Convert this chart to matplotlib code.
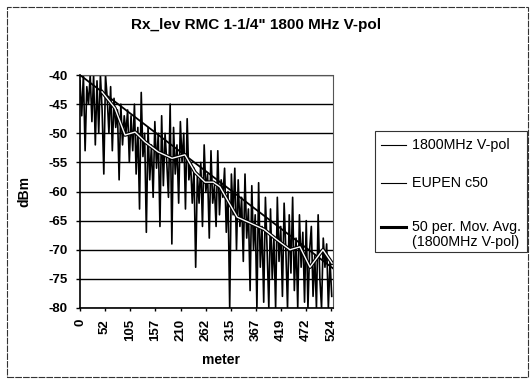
import numpy as np
import matplotlib
matplotlib.use("Agg")
import matplotlib.pyplot as plt
from matplotlib.lines import Line2D
from matplotlib.patches import Rectangle
import matplotlib.patheffects as pe

plt.rcParams['font.family'] = ['Liberation Sans', 'DejaVu Sans']

title = 'Rx_lev RMC 1-1/4" 1800 MHz V-pol'
x_ticks = [0, 52, 105, 157, 210, 262, 315, 367, 419, 472, 524]
x_tick_labels = [str(v) for v in x_ticks]
y_ticks = [-40, -45, -50, -55, -60, -65, -70, -75, -80]

# measured signal, one sample every meter_step meters
meter_step = 3.55
rx_dbm = [
    -41, -47, -40, -53, -42, -45, -40, -48, -40, -52,
    -41, -50, -40, -46, -57, -40, -44, -50, -42, -53,
    -44, -49, -46, -58, -45, -52, -47, -50, -46, -55,
    -47, -53, -45, -57, -49, -63, -43, -54, -50, -67,
    -49, -58, -52, -61, -48, -56, -50, -66, -47, -59,
    -50, -55, -61, -45, -69, -49, -57, -52, -62, -48,
    -55, -50, -63, -47.5, -58, -55, -62, -56, -73, -57,
    -62, -55, -66, -52, -60, -57, -68, -53, -62, -59,
    -66, -53, -64, -58, -61, -56, -67, -60, -80, -57,
    -64, -56, -70, -58, -66, -61, -72, -57, -68, -63,
    -77, -59, -70, -64, -80, -58.5, -73, -66, -79, -61,
    -70, -80, -63, -75, -68, -80, -61, -72, -66, -78,
    -62, -70, -80, -64, -74, -61, -77, -68, -80, -64,
    -73, -67, -79, -65, -80, -70, -66, -78, -71, -80,
    -64, -75, -80, -68, -73, -69, -80, -72, -78,
]
rx_meter = np.arange(len(rx_dbm)) * meter_step

# EUPEN c50 model line
eupen_meter = [0, 528]
eupen_dbm = [-40.0, -73.2]

# 50 per. moving average
mavg_meter = [46, 73, 94, 115, 136, 163, 192, 219, 240, 261, 278, 292,
              328, 355, 384, 411, 438, 459, 480, 507, 526]
mavg_dbm = [-42.9, -45.7, -50.3, -49.8, -51.5, -53.2, -54.3, -53.7, -56.7,
            -58.4, -58.4, -59.2, -64.4, -65.4, -66.5, -68.3, -70.0, -69.5,
            -73.0, -70.0, -72.3]

W, H = 531, 380
fig = plt.figure(figsize=(W / 100, H / 100), dpi=100)
ax = fig.add_axes([80 / W, 1 - 308 / H, (333 - 80) / W, (308 - 75) / H])

ax.plot(rx_meter, np.clip(rx_dbm, -80, -40), color='black', lw=1.2, zorder=2)
ax.plot(eupen_meter, eupen_dbm, color='black', lw=1.3, zorder=3)
ax.plot(mavg_meter, mavg_dbm, color='white', lw=1.0, zorder=4,
        path_effects=[pe.Stroke(linewidth=2.6, foreground='black'), pe.Normal()])

ax.set_xlim(0, 528)
ax.set_ylim(-80, -40)
ax.set_yticks(y_ticks)
ax.set_yticklabels([str(v) for v in y_ticks], fontsize=9.5, fontweight='bold')
ax.set_xticks(x_ticks)
ax.set_xticklabels(x_tick_labels, rotation=90, fontsize=9.5, fontweight='bold')
ax.tick_params(axis='y', length=3, width=1, pad=6)
ax.tick_params(axis='x', length=2, width=1, pad=6)
ax.yaxis.grid(True, color='black', lw=1.0)
ax.set_axisbelow(True)
for s in ['top', 'right']:
    ax.spines[s].set_color('#555555')
    ax.spines[s].set_linestyle((0, (4, 1)))
    ax.spines[s].set_linewidth(0.8)
for s in ['left', 'bottom']:
    ax.spines[s].set_linewidth(1.2)

ax.set_ylabel('dBm', fontsize=10, fontweight='bold')
ax.yaxis.set_label_coords((31 - 80) / (333 - 80), 0.5)
ax.set_xlabel('meter', fontsize=10, fontweight='bold')
ax.xaxis.set_label_coords((221 - 80) / (333 - 80), -(353 - 308) / (308 - 75))

fig.text(256 / W, 1 - 25 / H, title, ha='center', va='center',
         fontsize=11, fontweight='bold')

# outer chart frame
fig.add_artist(Rectangle((7 / W, 1 - 377 / H), (528 - 7) / W, (377 - 7) / H,
                         transform=fig.transFigure, fill=False, ec='#333333',
                         lw=0.8, ls=(0, (6, 1))))

# legend
fig.add_artist(Rectangle((375 / W, 1 - 252 / H), (527 - 375) / W, (252 - 131) / H,
                         transform=fig.transFigure, fill=False, ec='#333333', lw=0.8))
leg_items = [
    (145, 0.8, '1800MHz V-pol'),
    (183, 0.8, 'EUPEN c50'),
    (227, 2.2, '50 per. Mov. Avg.\n(1800MHz V-pol)'),
]
for y, lw, lab in leg_items:
    fig.add_artist(Line2D([381 / W, 406 / W], [1 - y / H, 1 - y / H],
                          transform=fig.transFigure, color='black', lw=lw))
    fig.text(412 / W, 1 - (y - 7) / H, lab, ha='left', va='top', fontsize=10.3,
             linespacing=1.1)

fig.savefig('out.png', dpi=100)
